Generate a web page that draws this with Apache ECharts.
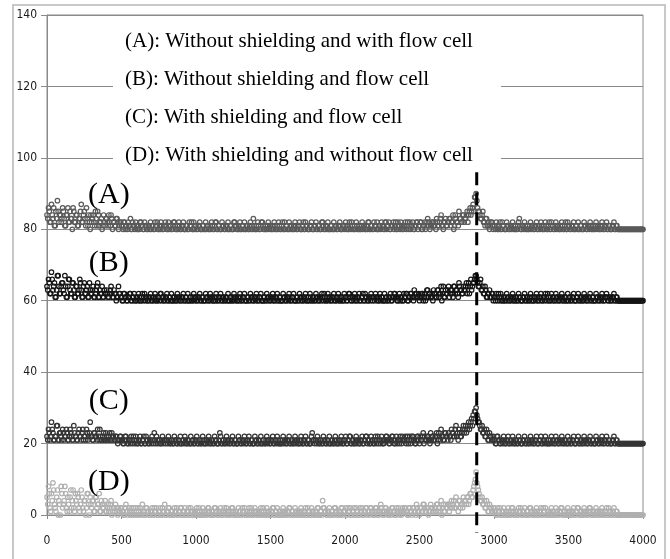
<!DOCTYPE html>
<html>
<head>
<meta charset="utf-8">
<script src="https://cdn.jsdelivr.net/npm/echarts@6/dist/echarts.min.js"></script>
<style>
html,body{margin:0;padding:0;background:#fff;}
#chart{width:670px;height:559px;}
</style>
</head>
<body>
<div id="chart"></div>
<script>
// Channels: primary arrays at channels 0,10,...,4000; secondary arrays at 5,15,...,3995
const channelStep = 10;
const seriesNames = [
  '(A): Without shielding and with flow cell',
  '(B): Without shielding and flow cell',
  '(C): With shielding and flow cell',
  '(D): With shielding and without flow cell'
];
const shortLabels = ['(A)', '(B)', '(C)', '(D)'];
const xTicks = [0, 500, 1000, 1500, 2000, 2500, 3000, 3500, 4000];
const yTicks = [0, 20, 40, 60, 80, 100, 120, 140];
const peakChannel = 2884;

const valuesA = [
84,86,82,87,83,81,85,88,82,84, 83,85,81,84,86,82,83,80,85,82, 84,81,83,87,82,85,81,83,84,80, 82,84,81,83,85,81,82,80,84,81,
83,81,82,84,80,82,81,83,80,82, 81,80,82,81,80,81,83,80,81,80, 81,80,80,82,81,80,81,80,81,80, 80,81,80,81,82,80,80,81,80,81,
81,80,80,81,80,82,81,80,80,81, 80,81,80,80,81,80,81,82,80,80, 81,80,81,80,80,81,80,80,81,80, 80,81,80,82,80,81,80,80,81,80,
81,80,80,81,80,80,82,81,80,80, 80,81,80,80,81,80,81,80,80,81, 80,80,81,80,82,81,80,80,81,80, 81,80,80,81,80,80,81,80,82,80,
80,81,80,80,81,80,80,81,80,81, 80,80,82,80,81,80,80,81,80,80, 81,80,81,80,80,82,80,81,80,80, 80,81,80,80,81,80,81,80,80,81,
81,80,80,82,80,81,80,80,81,80, 80,81,80,81,80,80,82,80,81,80, 81,80,80,81,80,81,80,82,80,81, 80,81,81,80,82,80,81,80,81,80,
81,80,82,81,80,81,80,81,82,80, 81,82,80,81,80,82,81,80,81,82, 81,80,82,81,83,81,80,82,81,82, 83,81,82,80,84,82,81,83,82,84,
82,83,85,84,86,85,87,89,90,86, 85,83,84,82,81,83,81,80,82,81, 81,80,81,80,82,80,81,80,80,81, 80,81,80,81,80,80,81,83,80,81,
80,81,80,80,81,80,81,80,81,80, 81,80,81,80,80,81,80,82,80,81, 80,81,80,81,80,80,81,80,82,80, 81,80,81,80,80,81,80,80,81,80,
80,81,80,81,80,81,80,80,81,80, 81,80,80,81,80,81,80,81,80,80, 81,80,81,80,80,80,80,80,80,80, 80,80,80,80,80,80,80,80,80,80,
80];
const valuesA2 = [
83,85,82,84,86,81,83,85,84,82, 86,83,81,84,82,85,83,86,82,84, 81,83,85,82,84,83,86,81,82,84, 83,82,85,81,84,82,83,81,82,83,
82,84,81,83,82,81,83,82,81,82, 81,82,80,81,82,81,80,82,81,82, 80,81,82,81,80,82,81,80,81,82, 81,80,82,81,80,81,82,80,81,82,
80,82,81,80,81,82,80,81,82,80, 81,82,80,81,80,82,81,80,82,81, 80,81,82,80,81,80,82,81,80,81, 82,80,81,82,80,81,80,82,81,80,
81,82,80,81,80,82,81,80,81,82, 80,81,82,80,81,80,82,81,83,80, 81,82,80,81,82,80,81,80,82,81, 80,81,82,80,81,82,80,81,80,82,
81,80,82,81,80,81,82,80,81,82, 80,81,80,82,81,80,81,82,80,81, 82,80,81,80,82,81,80,81,82,80, 81,80,82,81,80,81,82,80,81,80,
82,81,80,81,82,80,81,82,80,81, 80,82,81,80,81,82,80,81,80,82, 81,82,80,81,82,81,80,82,81,82, 80,81,82,81,80,82,81,82,80,81,
82,81,80,82,81,82,80,81,82,81, 82,80,81,82,81,83,82,81,82,81, 82,83,81,82,84,81,82,83,81,82, 83,82,84,81,83,82,85,83,82,84,
83,84,82,85,84,86,85,89,88,85, 84,83,85,82,83,81,82,81,82,80, 81,82,80,81,80,82,81,80,82,81, 80,81,82,80,81,80,82,81,80,81,
82,80,81,80,82,81,80,81,82,80, 81,82,80,81,82,80,81,80,82,81, 80,82,81,80,81,82,80,81,80,82, 81,80,81,82,80,81,82,80,81,80,
82,81,80,81,82,80,81,80,82,81, 80,81,82,80,81,82,80,81,80,81, 82,80,81,80,80,80,80,80,80,80, 80,80,80,80,80,80,80,80,80,80];

const valuesB = [
64,66,62,68,63,65,61,67,64,62, 65,63,67,61,64,66,62,65,63,61, 64,62,66,63,61,65,62,64,61,63, 62,64,61,63,65,61,62,64,61,62,
63,61,62,64,61,63,62,61,64,62, 61,60,62,61,60,61,62,60,61,60, 61,60,61,60,62,61,60,61,60,61, 60,61,60,61,60,61,62,60,61,60,
61,60,61,60,60,61,60,61,60,61, 60,61,60,61,60,60,61,60,61,60, 61,60,61,60,61,60,60,61,60,61, 60,61,60,60,61,60,61,60,61,60,
61,60,60,61,60,61,60,61,60,60, 61,60,61,60,60,61,60,61,60,61, 60,61,60,61,60,60,61,60,61,60, 61,60,61,60,61,60,61,60,60,61,
60,61,60,61,60,61,60,60,61,60, 61,60,61,60,61,60,60,61,60,61, 60,61,60,61,60,61,62,60,61,60, 61,60,61,60,61,60,61,60,61,60,
61,60,61,62,60,61,60,61,60,61, 60,61,62,60,61,60,61,60,61,61, 60,61,60,61,60,61,60,60,61,60, 61,60,61,62,61,60,61,60,61,60,
61,62,60,61,62,61,60,61,62,61, 60,61,62,61,60,63,61,62,61,60, 62,61,63,61,62,60,64,61,62,63, 61,63,62,64,62,63,61,64,63,62,
63,64,62,65,64,63,65,66,67,65, 64,66,63,62,64,61,62,63,61,62, 61,60,61,62,60,61,60,61,60,61, 60,61,60,61,60,61,60,61,60,60,
61,60,61,60,61,60,60,61,60,61, 60,61,60,61,60,61,62,60,61,60, 61,60,61,60,61,60,61,60,61,60, 60,61,60,61,60,60,61,60,61,60,
61,60,61,60,61,60,61,60,60,61, 60,61,60,61,60,61,61,60,61,60, 61,60,61,60,60,60,60,60,60,60, 60,60,60,60,60,60,60,60,60,60,
60];
const valuesB2 = [
63,65,62,66,64,61,63,67,62,64, 65,62,64,61,66,63,62,65,61,64, 62,63,65,61,64,62,63,61,65,62, 63,61,62,64,61,63,62,61,63,62,
62,61,63,62,61,62,60,61,62,61, 60,62,61,60,61,62,60,61,62,60, 61,62,60,61,60,62,61,60,61,62, 60,61,62,60,61,60,62,61,60,61,
62,60,61,62,60,61,60,62,61,60, 61,62,60,61,62,60,61,60,62,61, 60,61,62,60,61,60,62,61,60,62, 61,60,61,62,60,61,62,60,61,60,
61,62,60,61,60,62,61,60,61,62, 60,61,62,60,61,60,62,61,60,61, 62,60,61,62,60,61,60,62,61,60, 61,62,60,61,62,60,61,60,62,61,
60,61,62,60,61,62,60,61,60,62, 61,60,61,62,60,61,62,60,61,60, 62,61,60,61,62,60,61,60,62,61, 60,61,62,60,61,62,60,61,60,62,
61,60,62,61,60,61,62,60,61,62, 60,61,60,62,61,60,61,62,60,61, 62,61,60,62,61,60,62,61,60,61, 62,60,61,62,61,60,62,61,60,62,
61,62,60,61,62,61,63,62,61,62, 61,62,60,62,61,63,62,61,62,63, 62,61,63,62,64,62,61,63,62,64, 62,63,61,64,63,62,65,63,62,64,
63,65,64,62,66,64,65,67,66,64, 65,63,64,62,63,61,62,61,62,60, 61,62,60,61,62,60,61,60,62,61, 60,61,62,60,61,60,62,61,60,61,
62,60,61,60,62,61,60,61,62,60, 61,62,60,61,62,60,61,60,62,61, 60,62,61,60,61,62,60,61,60,62, 61,60,61,62,60,61,62,60,61,60,
62,61,60,61,62,60,61,60,62,61, 60,61,62,60,61,62,60,61,60,61, 62,60,61,60,60,60,60,60,60,60, 60,60,60,60,60,60,60,60,60,60];

const valuesC = [
22,24,21,26,23,21,22,25,21,23, 21,23,22,24,21,22,23,21,25,22, 21,23,22,21,24,22,21,23,22,26, 22,21,23,22,24,21,22,21,23,21,
22,21,23,21,22,21,22,21,21,22, 21,20,21,22,20,21,20,21,22,20, 21,20,21,20,21,22,20,21,20,21, 20,21,23,20,21,21,20,21,20,21,
21,20,21,20,21,20,21,20,21,20, 20,21,20,21,20,21,20,20,21,20, 21,20,21,20,21,20,20,21,20,21, 20,21,20,21,20,20,23,20,21,20,
21,20,21,20,21,20,21,20,20,21, 20,21,20,21,20,21,20,21,20,20, 21,20,21,20,20,21,20,21,20,21, 20,21,20,21,20,21,20,20,21,20,
21,20,21,20,21,20,21,20,21,20, 20,21,20,21,20,21,20,20,23,21, 21,20,21,20,21,20,21,20,21,20, 20,21,20,21,20,20,21,20,21,20,
21,20,21,22,20,21,20,21,20,21, 20,21,20,21,22,20,21,20,21,20, 21,20,22,21,20,21,20,21,22,21, 20,21,22,20,21,20,21,22,20,21,
21,20,22,21,20,22,21,20,21,22, 20,21,22,20,21,22,21,20,21,22, 21,22,20,23,21,22,21,23,22,21, 22,21,23,22,24,22,21,23,22,24,
23,25,24,26,25,27,28,29,30,27, 26,24,25,23,22,24,21,23,22,21, 21,20,22,21,20,21,20,21,20,21, 20,21,20,21,20,21,20,21,20,20,
21,20,21,20,21,20,21,20,21,20, 20,21,20,21,20,21,20,20,21,20, 21,20,21,20,21,20,21,20,21,20, 20,21,20,21,20,20,21,20,21,20,
21,20,21,20,21,20,21,20,20,21, 20,21,20,21,20,21,20,21,20,20, 21,20,21,20,20,20,20,20,20,20, 20,20,20,20,20,20,20,20,20,20,
20];
const valuesC2 = [
21,23,22,24,21,22,25,21,23,22, 24,21,22,23,21,24,22,21,23,22, 21,24,22,23,21,22,24,21,23,22, 21,23,22,21,22,24,21,22,21,23,
21,22,21,23,22,21,22,20,21,22, 21,20,22,21,20,21,22,20,21,22, 20,21,22,20,21,20,22,21,20,21, 22,20,21,22,20,21,20,22,21,20,
21,22,20,21,20,22,21,20,21,22, 20,21,22,20,21,20,22,21,20,21, 22,20,21,20,22,21,20,21,22,20, 21,20,22,21,20,21,22,20,21,20,
22,21,20,21,22,20,21,20,22,21, 20,21,22,20,21,22,20,21,20,22, 21,20,21,22,20,21,20,22,21,20, 21,22,20,21,22,20,21,20,22,21,
20,21,22,20,21,20,22,21,20,21, 22,20,21,22,20,21,20,22,21,20, 21,22,20,21,20,22,21,20,21,22, 20,21,20,22,21,20,21,22,20,21,
22,20,21,22,20,21,20,22,21,20, 21,22,20,21,22,21,20,22,21,20, 22,21,20,21,22,20,21,22,21,20, 21,22,21,20,22,21,20,21,22,21,
22,21,20,22,21,22,21,20,22,21, 22,21,23,22,21,22,21,23,22,21, 22,23,21,22,24,22,21,23,22,23, 22,24,23,22,25,23,24,22,23,25,
24,23,25,24,26,25,27,29,28,26, 25,24,23,24,22,23,21,22,21,22, 21,20,22,21,20,21,22,20,21,22, 20,21,22,20,21,20,22,21,20,21,
22,20,21,20,22,21,20,21,22,20, 21,22,20,21,22,20,21,20,22,21, 20,22,21,20,21,22,20,21,20,22, 21,20,21,22,20,21,22,20,21,20,
22,21,20,21,22,20,21,20,22,21, 20,21,22,20,21,22,20,21,20,21, 22,20,21,20,20,20,20,20,20,20, 20,20,20,20,20,20,20,20,20,20];

const valuesD = [
5,8,2,6,9,3,1,7,4,0, 6,3,8,2,5,1,7,4,2,6, 3,5,1,7,2,4,0,6,3,5, 2,4,1,5,3,6,1,3,2,4,
1,3,2,4,1,2,3,1,2,1, 2,1,0,3,1,2,0,1,2,0, 1,2,0,1,3,1,0,2,1,0, 1,0,2,1,0,1,2,0,1,3,
0,1,2,0,1,0,1,2,0,1, 2,0,1,0,1,2,0,1,0,1, 0,1,2,0,1,0,1,0,2,1, 0,1,0,2,1,0,1,0,1,2,
1,0,1,0,2,1,0,1,0,1, 0,2,1,0,1,0,1,2,0,1, 1,0,1,0,1,2,0,1,0,1, 0,1,2,0,1,0,1,0,1,0,
1,0,1,2,0,1,0,1,0,1, 0,1,0,1,0,2,1,0,1,0, 1,0,2,0,1,4,2,1,0,1, 0,1,0,2,1,0,1,0,2,1,
1,0,2,1,0,1,2,0,1,0, 2,1,0,1,2,0,1,2,1,0, 1,2,0,1,3,1,0,2,1,0, 1,0,2,1,0,1,2,1,0,1,
2,1,0,2,1,0,2,1,3,1, 0,2,1,3,1,2,0,1,2,1, 2,1,3,2,1,0,3,1,2,3, 1,3,2,4,2,3,1,4,3,2,
3,4,5,3,6,5,7,9,12,8, 6,4,5,3,2,4,1,3,2,1, 2,1,0,1,2,0,1,0,1,0, 1,0,2,1,0,1,0,1,2,0,
1,0,1,0,2,1,0,1,0,1, 0,1,0,2,1,0,1,0,1,0, 1,0,1,0,1,2,0,1,0,1, 0,1,0,1,0,1,2,0,1,0,
1,0,1,0,2,1,0,1,0,1, 0,1,0,1,0,1,0,2,1,0, 1,0,1,0,0,0,0,0,0,0, 0,0,0,0,0,0,0,0,0,0,
0];
const valuesD2 = [
3,6,1,4,7,2,5,0,3,8, 2,4,6,1,3,5,2,7,1,4, 6,2,3,5,1,4,2,6,0,3, 4,1,5,2,3,1,4,2,3,1,
2,1,3,0,2,1,2,0,1,2, 1,0,2,1,0,1,2,0,1,2, 0,1,2,0,1,0,2,1,0,1, 2,0,1,2,0,1,0,2,1,0,
1,2,0,1,0,2,1,0,1,2, 0,1,2,0,1,0,2,1,0,1, 2,0,1,0,2,1,0,1,2,0, 1,0,2,1,0,1,2,0,1,0,
2,1,0,1,2,0,1,0,2,1, 0,1,2,0,1,2,0,1,0,2, 1,0,1,2,0,1,0,2,1,0, 1,2,0,1,2,0,1,0,2,1,
0,1,2,0,1,0,2,1,0,1, 2,0,1,2,0,1,0,2,1,0, 1,2,0,1,0,2,1,0,1,2, 0,1,0,2,1,0,1,2,0,1,
2,0,1,2,0,1,0,2,1,0, 1,2,0,1,2,1,0,2,1,0, 2,1,0,1,2,0,1,2,1,0, 1,2,1,0,2,1,0,1,2,1,
2,1,0,2,1,2,1,0,2,1, 2,1,3,2,1,2,1,3,2,1, 2,3,1,2,4,2,1,3,2,3, 2,4,3,2,5,3,4,2,3,5,
4,3,5,4,6,5,8,10,9,7, 5,4,3,4,2,3,1,2,1,2, 1,0,2,1,0,1,2,0,1,2, 0,1,2,0,1,0,2,1,0,1,
2,0,1,0,2,1,0,1,2,0, 1,2,0,1,2,0,1,0,2,1, 0,2,1,0,1,2,0,1,0,2, 1,0,1,2,0,1,2,0,1,0,
2,1,0,1,2,0,1,0,2,1, 0,1,2,0,1,2,0,1,0,1, 2,0,1,0,0,0,0,0,0,0, 0,0,0,0,0,0,0,0,0,0];

const primaryValues = [valuesA, valuesB, valuesC, valuesD];
const secondaryValues = [valuesA2, valuesB2, valuesC2, valuesD2];
const seriesColors = ['#5a5a5a', '#151515', '#353535', '#b0b0b0'];
const labelX = 415;
const labelValueY = [89.5, 70.6, 32, 9.3];
const dashedLineY = [96, -5];

const chart = echarts.init(document.getElementById('chart'), null, {renderer: 'canvas'});
const axisFont = "'Liberation Sans Narrow', 'DejaVu Sans Condensed', 'Arial Narrow', sans-serif";
const serifFont = "'Liberation Serif', 'Times New Roman', serif";

const scatterSeries = primaryValues.map((vals, si) => ({
  name: seriesNames[si],
  type: 'scatter',
  symbol: 'circle',
  symbolSize: 4.5,
  z: 2,
  itemStyle: {color: 'rgba(255,255,255,0)', borderColor: seriesColors[si], borderWidth: 1.2, opacity: 1},
  emphasis: {disabled: true},
  data: vals.map((v, i) => [i * channelStep, v])
    .concat(secondaryValues[si].map((v, j) => [j * channelStep + channelStep / 2, v]))
}));

const option = {
  animation: false,
  backgroundColor: '#fff',
  grid: {left: 47, right: 27, top: 15, bottom: 44, show: true, borderColor: '#8a8a8a', borderWidth: 1, backgroundColor: 'transparent'},
  legend: {
    data: seriesNames,
    orient: 'vertical',
    left: 113,
    top: 22,
    icon: 'none',
    itemWidth: 0,
    itemHeight: 21,
    itemGap: 16,
    padding: [8, 28, 6, 7],
    backgroundColor: '#fff',
    selectedMode: false,
    textStyle: {fontFamily: serifFont, fontSize: 21, color: '#000', lineHeight: 22}
  },
  xAxis: {
    type: 'value', min: 0, max: 4000, interval: 500,
    axisLine: {show: true, lineStyle: {color: '#8a8a8a'}},
    axisTick: {show: true, length: 4, lineStyle: {color: '#8a8a8a'}},
    splitLine: {show: false},
    axisLabel: {fontFamily: axisFont, fontSize: 12, color: '#1a1a1a', margin: 20,
      formatter: v => xTicks.includes(v) ? String(v) : ''}
  },
  yAxis: {
    type: 'value', min: 0, max: 140, interval: 20,
    axisLine: {show: true, lineStyle: {color: '#8a8a8a'}},
    axisTick: {show: true, length: 6, lineStyle: {color: '#8a8a8a'}},
    splitLine: {show: true, lineStyle: {color: '#8a8a8a', width: 1}},
    axisLabel: {fontFamily: axisFont, fontSize: 12, color: '#1a1a1a', margin: 10,
      formatter: v => yTicks.includes(v) ? String(v) : ''}
  },
  series: scatterSeries.concat([
    {
      name: 'peak',
      type: 'line',
      clip: false,
      silent: true,
      symbol: 'none',
      z: 3,
      lineStyle: {color: '#000', width: 3, type: [13, 7]},
      data: [[peakChannel, dashedLineY[0]], [peakChannel, dashedLineY[1]]]
    },
    {
      name: 'labels',
      type: 'scatter',
      silent: true,
      symbolSize: 0,
      z: 5,
      itemStyle: {opacity: 1},
      label: {show: true, position: 'inside', formatter: p => shortLabels[p.dataIndex],
        fontFamily: serifFont, fontSize: 30, color: '#000'},
      data: labelValueY.map(y => [labelX, y])
    }
  ]),
  graphic: [
    {type: 'rect', z: 100, silent: true, shape: {x: 13, y: 5, width: 652, height: 600},
      style: {fill: 'none', stroke: '#c8c8c8', lineWidth: 2}}
  ]
};
chart.setOption(option);
</script>
</body>
</html>
